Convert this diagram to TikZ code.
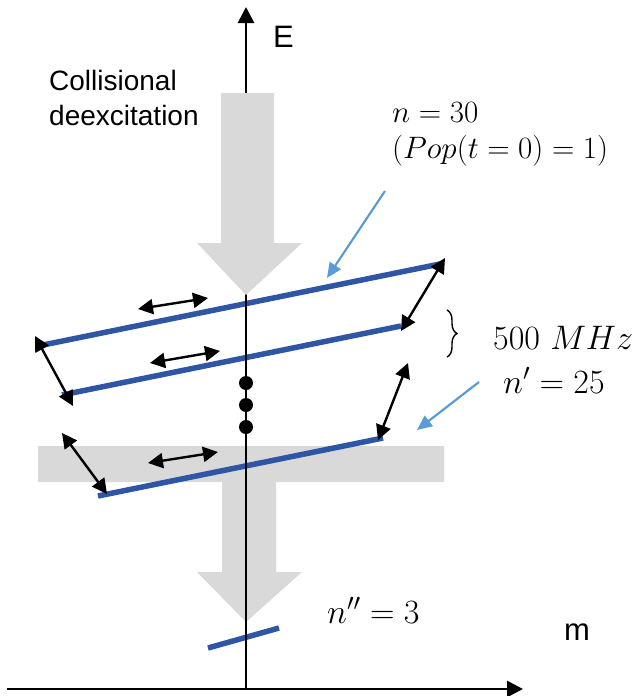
\RequirePackage{fix-cm}
\documentclass[tikz,border=0pt]{standalone}
\usepackage{fontspec}
\setsansfont{Liberation Sans}
\usetikzlibrary{arrows.meta,decorations.pathreplacing}
\definecolor{graybar}{HTML}{D9D9D9}
\definecolor{levelblue}{HTML}{2F55A5}
\definecolor{pointblue}{HTML}{5B9BD5}
\tikzset{
  level/.style={levelblue, line width=5.5pt},
  dbl/.style={{Triangle[length=15pt,width=15pt]}-{Triangle[length=15pt,width=15pt]}, line width=2.4pt, black},
  pointer/.style={-{Triangle[length=15pt,width=13pt]}, pointblue, line width=2.2pt},
  axisline/.style={line width=2.8pt, -{Triangle[length=16pt,width=16pt]}},
  sanslabel/.style={anchor=base west, inner sep=0pt, font=\sffamily\fontsize{28}{32}\selectfont},
  axislabel/.style={anchor=base west, inner sep=0pt, font=\sffamily\fontsize{31}{36}\selectfont},
  mathsmall/.style={anchor=base west, inner sep=0pt, font=\fontsize{31}{36}\selectfont},
  mathbig/.style={anchor=base west, inner sep=0pt, font=\fontsize{34}{40}\selectfont},
}
\begin{document}
\begin{tikzpicture}[x=1pt,y=-1pt]
\useasboundingbox (0,0) rectangle (643,696);
% gray T shape with arrow (bottom)
\fill[graybar] (38,446) -- (444,446) -- (444,482) -- (276,482) -- (276,572) -- (302,572)
  -- (246,622) -- (197,572) -- (222,572) -- (222,482) -- (38,482) -- cycle;
% level coordinates
\coordinate (l1a) at (43,345);  \coordinate (l1b) at (440,264);
\coordinate (l2a) at (62,395);  \coordinate (l2b) at (401,326);
\coordinate (l3a) at (98,496);  \coordinate (l3b) at (383,438);
\coordinate (l4a) at (208,648); \coordinate (l4b) at (279,628);
\draw[level] (l1a) -- (l1b);
\draw[level] (l2a) -- (l2b);
\draw[level] (l3a) -- (l3b);
\draw[level] (l4a) -- (l4b);
% axes
\coordinate (origin) at (246,689);
\coordinate (etop) at (246,7);
\coordinate (xleft) at (7,689);
\coordinate (xright) at (523,689);
\draw[axisline] (origin) -- (etop);
\draw[axisline] (xleft) -- (xright);
% upper gray arrow (drawn over the axis)
\fill[graybar] (221,93) -- (274,93) -- (274,243) -- (302,243) -- (246,295) -- (197,243) -- (221,243) -- cycle;
% dots
\fill (246,383) circle (7pt);
\fill (246,405) circle (7pt);
\fill (246,427) circle (7pt);
% double arrows
\coordinate (al1a) at (35,336);  \coordinate (al1b) at (73,406);
\coordinate (al2a) at (62,433);  \coordinate (al2b) at (107,494);
\coordinate (ar1a) at (445,258); \coordinate (ar1b) at (401,331);
\coordinate (ar2a) at (408,363); \coordinate (ar2b) at (378,440);
\coordinate (h1a) at (138,309);  \coordinate (h1b) at (208,298);
\coordinate (h2a) at (150,363);  \coordinate (h2b) at (220,351);
\coordinate (h3a) at (148,463);  \coordinate (h3b) at (218,452);
\draw[dbl] (al1a) -- (al1b);
\draw[dbl] (al2a) -- (al2b);
\draw[dbl] (ar1a) -- (ar1b);
\draw[dbl] (ar2a) -- (ar2b);
\draw[dbl] (h1a) -- (h1b);
\draw[dbl] (h2a) -- (h2b);
\draw[dbl] (h3a) -- (h3b);
% pointers
\coordinate (p1s) at (385,191); \coordinate (p1t) at (327,278);
\coordinate (p2s) at (479,382); \coordinate (p2t) at (417,430);
\draw[pointer] (p1s) -- (p1t);
\draw[pointer] (p2s) -- (p2t);
% brace
\coordinate (bra) at (447,310); \coordinate (brb) at (447,357);
\draw[decorate, decoration={brace, amplitude=10pt}, line width=1.4pt] (bra) -- (brb);
% texts
\node[sanslabel] (coll) at (49,90) {Collisional};
\node[sanslabel] (deex) at (49,125) {deexcitation};
\node[axislabel] (elab) at (273,47) {E};
\node[axislabel] (mlab) at (564,640) {m};
\node[mathsmall] (n30) at (392,122) {$n = 30$};
\node[mathsmall] (pop) at (392,158) {$(Pop(t = 0) = 1)$};
\node[mathbig] (mhz) at (493,349) {$500\ MHz$};
\node[mathbig] (n25) at (503,393) {$n' = 25$};
\node[mathbig] (n3) at (327,623) {$n'' = 3$};
\end{tikzpicture}
\end{document}
